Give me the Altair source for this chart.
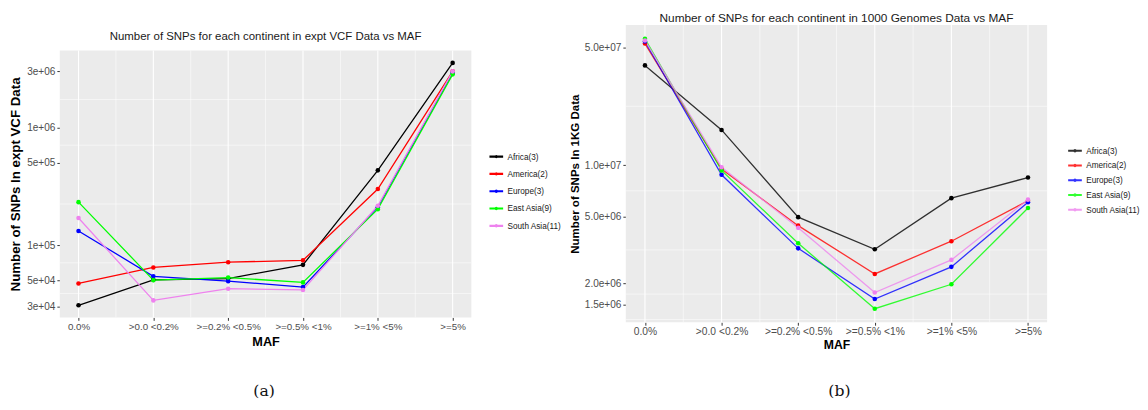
import json
import altair as alt
import pandas as pd

# ---------------- data ----------------
maf_labels = ["0.0%", ">0.0 <0.2%", ">=0.2% <0.5%", ">=0.5% <1%", ">=1% <5%", ">=5%"]
maf_index = [1, 2, 3, 4, 5, 6]
continents = ["Africa(3)", "America(2)", "Europe(3)", "East Asia(9)", "South Asia(11)"]
colors = ["#000000", "#FF0000", "#0000FF", "#00FF00", "#EE82EE"]

# (a) expt VCF data
vcf_africa = [3.08e4, 5.07e4, 5.2e4, 6.8e4, 4.32e5, 3.54e6]
vcf_america = [4.72e4, 6.46e4, 7.16e4, 7.43e4, 3.0e5, 3.0e6]
vcf_europe = [1.32e5, 5.43e4, 4.94e4, 4.4e4, 2.1e5, 2.9e6]
vcf_east_asia = [2.32e5, 5.04e4, 5.3e4, 4.82e4, 2.02e5, 2.83e6]
vcf_south_asia = [1.7e5, 3.39e4, 4.26e4, 4.16e4, 2.16e5, 3.0e6]

# (b) 1000 Genomes data
kg_africa = [3.9e7, 1.62e7, 4.94e6, 3.19e6, 6.4e6, 8.47e6]
kg_america = [5.25e7, 9.5e6, 4.4e6, 2.28e6, 3.56e6, 6.18e6]
kg_europe = [5.4e7, 8.8e6, 3.23e6, 1.62e6, 2.51e6, 6.05e6]
kg_east_asia = [5.61e7, 9.33e6, 3.46e6, 1.42e6, 1.98e6, 5.59e6]
kg_south_asia = [5.48e7, 9.74e6, 4.27e6, 1.77e6, 2.76e6, 6.27e6]

# axis ticks and grid
vcf_ticks = [3e4, 5e4, 1e5, 5e5, 1e6, 3e6]
vcf_tick_labels = ["3e+04", "5e+04", "1e+05", "5e+05", "1e+06", "3e+06"]
vcf_minor = [3.873e4, 7.071e4, 2.236e5, 7.071e5, 1.732e6]
vcf_domain = [2.43e4, 4.51e6]
kg_ticks = [1.5e6, 2e6, 5e6, 1e7, 5e7]
kg_tick_labels = ["1.5e+06", "2.0e+06", "5.0e+06", "1.0e+07", "5.0e+07"]
kg_minor = [1.2247e6, 1.732e6, 3.162e6, 7.071e6, 2.236e7]
kg_domain = [1.18e6, 6.75e7]
x_domain = [0.75, 6.25]
x_minor = [1.5, 2.5, 3.5, 4.5, 5.5]

FONT = "Liberation Sans, Arial, sans-serif"
LEG_PATH = "M-1,0H1M-0.09,0A0.09,0.09 0 1,0 0.09,0A0.09,0.09 0 1,0 -0.09,0"


def make_df(series):
    rows = []
    for name, vals in zip(continents, series):
        for i, v in zip(maf_index, vals):
            rows.append({"idx": i, "continent": name, "value": v})
    return pd.DataFrame(rows)


def panel(series, title, ytitle, ticks, tick_labels, minor, domain, w, h, yrange,
          caption, cap_xy, leg_xy, title_y, line_opacity, ytitle_size, ytitle_pad,
          row_pad, title_size, xlab_size, xtitle_size, xtitle_pad):
    df = make_df(series)
    xlab = "[" + ",".join(json.dumps(s) for s in maf_labels) + "][datum.value - 1]"
    ylab = ("[" + ",".join(json.dumps(s) for s in tick_labels) + "][indexof(["
            + ",".join(repr(t) for t in ticks) + "], datum.value)]")
    xscale = alt.Scale(domain=x_domain, nice=False, zero=False)
    yscale = alt.Scale(type="log", domain=domain, nice=False, zero=False, range=yrange)
    xaxis = alt.Axis(values=maf_index, labelExpr=xlab, title="MAF", grid=False,
                     domain=False, tickColor="#333333", tickSize=3,
                     labelColor="#4D4D4D", labelFont=FONT, labelFontSize=xlab_size,
                     labelPadding=1, titleFont=FONT, titleFontSize=xtitle_size,
                     titleFontWeight="bold", titlePadding=xtitle_pad,
                     titleColor="black", labelAngle=0)
    yaxis = alt.Axis(values=ticks, labelExpr=ylab, title=ytitle, grid=True,
                     gridColor="white", gridWidth=1.1, domain=False,
                     tickColor="#333333", tickSize=3, labelColor="#4D4D4D",
                     labelFont=FONT, labelFontSize=10.3, labelPadding=2,
                     titleFont=FONT, titleFontSize=ytitle_size,
                     titleFontWeight="bold", titlePadding=ytitle_pad,
                     titleColor="black")
    X = alt.X("idx:Q", scale=xscale, axis=xaxis)
    Y = alt.Y("value:Q", scale=yscale, axis=yaxis)

    bg = alt.Chart(pd.DataFrame({"idx": [x_domain[0]], "x2": [x_domain[1]],
                                 "value": [domain[0]], "y2": [domain[1]]})).mark_rect(
        color="#EBEBEB").encode(x=X, x2="x2:Q", y=Y, y2="y2:Q")
    hminor = alt.Chart(pd.DataFrame({"value": minor})).mark_rule(
        color="white", strokeWidth=0.55).encode(y=Y)
    vmajor = alt.Chart(pd.DataFrame({"idx": maf_index, "value": [domain[0]] * 6,
                                     "y2": [domain[1]] * 6})).mark_rule(
        color="white", strokeWidth=1.1).encode(x=X, y=Y, y2="y2:Q")
    vminor = alt.Chart(pd.DataFrame({"idx": x_minor, "value": [domain[0]] * 5,
                                     "y2": [domain[1]] * 5})).mark_rule(
        color="white", strokeWidth=0.55).encode(x=X, y=Y, y2="y2:Q")

    color = alt.Color("continent:N",
                      scale=alt.Scale(domain=continents, range=colors),
                      sort=continents,
                      legend=alt.Legend(title=None, orient="none",
                                        legendX=leg_xy[0], legendY=leg_xy[1],
                                        symbolType=LEG_PATH, symbolSize=196,
                                        symbolStrokeWidth=2.2,
                                        labelFont=FONT, labelFontSize=8.4,
                                        labelColor="#1A1A1A", labelOffset=3,
                                        rowPadding=row_pad))
    lines = alt.Chart(df).mark_line(strokeWidth=1.3, opacity=line_opacity).encode(
        x=X, y=Y, color=color)
    points = alt.Chart(df).mark_point(filled=True, size=22, opacity=1).encode(
        x=X, y=Y,
        color=alt.Color("continent:N",
                        scale=alt.Scale(domain=continents, range=colors),
                        legend=None))
    cap = alt.Chart(pd.DataFrame({"t": [caption]})).mark_text(
        font="DejaVu Serif", fontSize=16, color="#111111", baseline="middle",
        align="center").encode(
        text="t:N", x=alt.value(cap_xy[0]), y=alt.value(cap_xy[1]))
    ttl = alt.Chart(pd.DataFrame({"t": [title]})).mark_text(
        font=FONT, fontSize=title_size, color="#1A1A1A", baseline="middle",
        align="center").encode(
        text="t:N", x=alt.value(w / 2), y=alt.value(title_y))

    return alt.layer(bg, hminor, vminor, vmajor, lines, points, cap, ttl).properties(
        width=w, height=h)


left = panel([vcf_africa, vcf_america, vcf_europe, vcf_east_asia, vcf_south_asia],
             "Number of SNPs for each continent in expt VCF Data vs MAF",
             "Number of SNPs In expt VCF Data", vcf_ticks, vcf_tick_labels,
             vcf_minor, vcf_domain, 421, 299, [299, 26], "(a)", (209, 374.5),
             (438, 126), 11, 1.0, 13.6, 4.5, 3.7, 11.7, 10, 13, 5)

right = panel([kg_africa, kg_america, kg_europe, kg_east_asia, kg_south_asia],
              "Number of SNPs for each continent in 1000 Genomes Data vs MAF",
              "Number of SNPs In 1KG Data", kg_ticks, kg_tick_labels,
              kg_minor, kg_domain, 431, 304, [304, 0], "(b)", (218.5, 374.5),
              (451, 120), -7, 0.8, 11.8, 3.5, 1.1, 12.1, 10.5, 12.5, 2)

chart = alt.hconcat(left, right, spacing=8).resolve_legend(
    color="independent").resolve_scale(color="independent").properties(
    padding={"top": 0, "left": 0, "right": 0, "bottom": -3},
    background="white").configure_view(fill=None, stroke=None)

chart.save("out.html", embed_options={"renderer": "svg", "actions": False})
